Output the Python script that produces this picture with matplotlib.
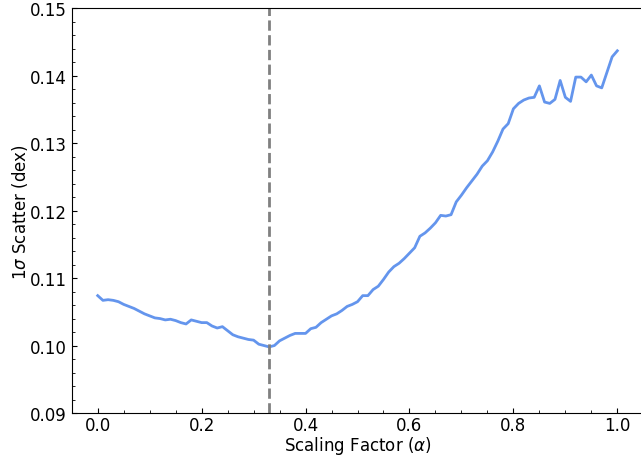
import matplotlib
matplotlib.use("Agg")
import matplotlib.pyplot as plt
import numpy as np
from matplotlib.ticker import MultipleLocator

# Scatter of the relation vs. scaling factor alpha (steps of 0.01 from 0 to 1)
alpha = np.round(np.arange(0, 101) * 0.01, 2)
scatter = [
    0.1074, 0.1067, 0.1068, 0.1067, 0.1065, 0.1061, 0.1058, 0.1055, 0.1051, 0.1047,
    0.1044, 0.1041, 0.1040, 0.1038, 0.1039, 0.1037, 0.1034, 0.1032, 0.1038, 0.1036,
    0.1034, 0.1034, 0.1029, 0.1026, 0.1028, 0.1022, 0.1016, 0.1013, 0.1011, 0.1009,
    0.1008, 0.1002, 0.1000, 0.0998, 0.1000, 0.1007, 0.1011, 0.1015, 0.1018, 0.1018,
    0.1018, 0.1025, 0.1027, 0.1034, 0.1039, 0.1044, 0.1047, 0.1052, 0.1058, 0.1061,
    0.1065, 0.1074, 0.1074, 0.1083, 0.1088, 0.1098, 0.1109, 0.1117, 0.1122, 0.1129,
    0.1137, 0.1145, 0.1162, 0.1167, 0.1174, 0.1182, 0.1193, 0.1192, 0.1194, 0.1213,
    0.1223, 0.1234, 0.1244, 0.1254, 0.1266, 0.1274, 0.1287, 0.1303, 0.1321, 0.1329,
    0.1351, 0.1359, 0.1364, 0.1367, 0.1368, 0.1385, 0.1361, 0.1359, 0.1365, 0.1393,
    0.1368, 0.1362, 0.1398, 0.1398, 0.1391, 0.1401, 0.1385, 0.1382, 0.1405, 0.1428,
    0.1437,
]
best_alpha = 0.33
y_ticks = [0.09, 0.10, 0.11, 0.12, 0.13, 0.14, 0.15]

fig = plt.figure(figsize=(6.41, 4.60), dpi=100)
ax = fig.add_axes([0.1119, 0.1, 0.8917, 0.8798])

ax.plot(alpha, scatter, color="cornflowerblue", lw=2)
ax.axvline(best_alpha, color="grey", ls="--", lw=2)

ax.set_xlim(-0.05, 1.05)
ax.set_ylim(0.09, 0.15)
ax.xaxis.set_major_locator(MultipleLocator(0.2))
ax.xaxis.set_minor_locator(MultipleLocator(0.05))
ax.set_yticks(y_ticks)
ax.set_yticklabels([f"{v:.2f}" for v in y_ticks])
ax.yaxis.set_minor_locator(MultipleLocator(0.002))
ax.tick_params(which="both", direction="in", labelsize=12)
ax.tick_params(axis="x", pad=2)

ax.set_xlabel(r"Scaling Factor ($\alpha$)", fontsize=12, labelpad=0.5)
ax.set_ylabel(r"1$\sigma$ Scatter (dex)", fontsize=12, labelpad=0)

fig.savefig("out.png", dpi=100)
